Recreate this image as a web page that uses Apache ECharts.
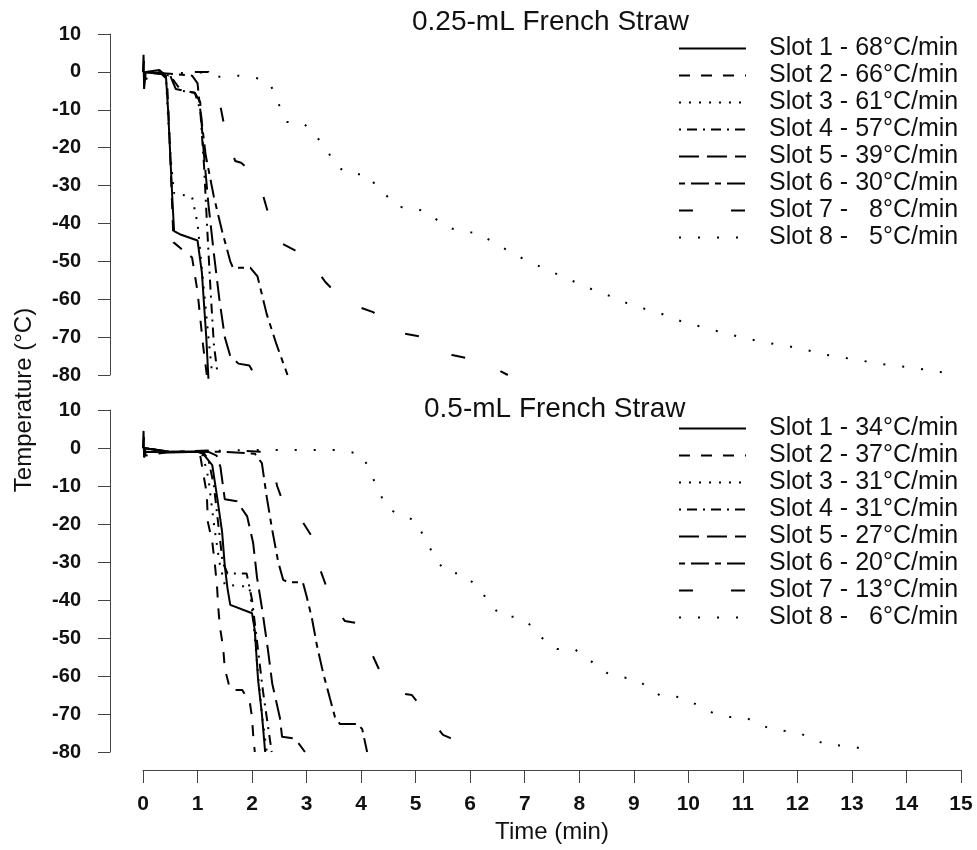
<!DOCTYPE html>
<html>
<head>
<meta charset="utf-8">
<title>French Straw cooling curves</title>
<script src="https://cdn.jsdelivr.net/npm/echarts@6/dist/echarts.min.js"></script>
<style>
  html, body { margin: 0; padding: 0; background: #fff; }
  #chart { width: 977px; height: 850px; }
</style>
</head>
<body>
<div id="chart"></div>
<script>
// x ticks (min) and y ticks (°C)
var timeTicks = [0, 1, 2, 3, 4, 5, 6, 7, 8, 9, 10, 11, 12, 13, 14, 15];
var tempTicks = [-80, -70, -60, -50, -40, -30, -20, -10, 0, 10];

// legend names
var topNames = ['Slot 1 - 68°C/min', 'Slot 2 - 66°C/min', 'Slot 3 - 61°C/min', 'Slot 4 - 57°C/min',
                'Slot 5 - 39°C/min', 'Slot 6 - 30°C/min', 'Slot 7 -   8°C/min', 'Slot 8 -   5°C/min'];
var botNames = ['Slot 1 - 34°C/min', 'Slot 2 - 37°C/min', 'Slot 3 - 31°C/min', 'Slot 4 - 31°C/min',
                'Slot 5 - 27°C/min', 'Slot 6 - 20°C/min', 'Slot 7 - 13°C/min', 'Slot 8 -   6°C/min'];

// 0.25-mL straw, [time, temp]
var top1 = [[0,0],[0.01,4.5],[0.02,-4.5],[0.05,0],[0.3,0.5],[0.42,-1],[0.46,-10],[0.5,-22],[0.54,-34],[0.57,-42],[0.7,-43],[1.0,-44.5],[1.08,-53],[1.16,-70],[1.2,-81]];
var top2 = [[0,0],[0.02,3],[0.04,-2],[0.3,0],[0.44,-2],[0.48,-15],[0.52,-30],[0.56,-45],[0.9,-49],[1.0,-58],[1.1,-72],[1.17,-80]];
var top3 = [[0,0],[0.3,-0.5],[0.42,-1],[0.46,-12],[0.52,-25],[0.57,-32],[0.9,-33],[1.0,-40],[1.1,-55],[1.2,-70],[1.27,-80]];
var top4 = [[0,0],[0.3,-0.5],[0.5,-1],[0.6,-3],[0.7,-5],[0.95,-5.5],[1.05,-10],[1.12,-25],[1.18,-42],[1.24,-58],[1.3,-72],[1.37,-80]];
var top5 = [[0,0],[0.3,-0.5],[0.5,-1],[0.6,-4.5],[0.75,-5],[0.95,-5.5],[1.05,-8],[1.1,-19],[1.2,-35],[1.3,-48],[1.4,-60],[1.5,-70],[1.6,-75],[1.75,-77],[1.95,-77.5],[2.05,-80]];
var top6 = [[0,0],[0.5,-0.5],[0.9,-1],[1.0,-3],[1.05,-10],[1.15,-22],[1.3,-33],[1.45,-42],[1.6,-50],[1.65,-51.7],[1.97,-51.7],[2.1,-54],[2.27,-64],[2.45,-72],[2.65,-80]];
var top7 = [[0,0],[0.5,-0.5],[0.9,0],[1.2,0],[1.3,-2],[1.38,-6],[1.5,-15],[1.69,-23.5],[1.8,-24],[2.11,-28],[2.29,-37],[2.51,-45],[3.03,-49],[3.34,-55.4],[3.7,-60.7],[4.22,-63.4],[4.62,-68.6],[5.21,-70.2],[5.67,-74.7],[6.23,-76.5],[6.69,-80]];
var top8 = [[0,0],[0.5,-0.5],[1.0,0],[1.41,-1.3],[1.74,-1],[2.05,-1.5],[2.29,-2.4],[2.42,-5.6],[2.51,-9.3],[2.64,-13.2],[2.93,-13.5],[3.12,-15.8],[3.28,-19],[3.43,-22],[3.56,-25],[3.8,-27],[4.11,-27],[4.26,-29.8],[4.49,-33],[4.66,-35.6],[4.99,-36],[5.23,-37.2],[5.41,-39.3],[5.59,-41],[5.85,-42.2],[6.14,-42.5],[6.36,-44.4],[6.58,-46.2],[6.79,-48],[7.01,-49.6],[7.5,-52.8],[7.96,-55.7],[8.38,-58.3],[8.69,-59.7],[8.93,-61.5],[9.43,-63.4],[9.9,-66],[10.45,-68.1],[10.95,-70],[11.44,-71.5],[11.99,-72.8],[12.54,-74.7],[13.09,-76],[13.64,-77.3],[14.12,-78.1],[14.62,-79.2],[14.93,-80]];

// 0.5-mL straw, [time, temp]
var bot1 = [[0,0],[0.01,4.5],[0.02,-2.5],[0.05,-1],[0.5,-1.2],[1.0,-1],[1.1,-1.5],[1.27,-4.5],[1.36,-13],[1.45,-22],[1.5,-31],[1.55,-37],[1.6,-41.3],[2.0,-43.5],[2.05,-48],[2.11,-61],[2.18,-70],[2.24,-80]];
var bot2 = [[0,0],[0.02,3],[0.04,-2],[0.5,-1],[1.0,-1],[1.05,-2],[1.1,-6.3],[1.17,-12],[1.19,-19.5],[1.27,-24.7],[1.32,-30.8],[1.36,-37],[1.38,-42],[1.41,-47],[1.47,-52.6],[1.5,-58],[1.6,-63.7],[1.82,-63.7],[1.96,-67],[2.0,-71],[2.02,-75.5],[2.05,-80]];
var bot3 = [[0,0],[0.5,-1],[1.0,-1],[1.1,-2],[1.2,-8],[1.3,-20],[1.4,-30],[1.5,-36],[1.95,-36.5],[2.02,-45],[2.1,-58],[2.18,-70],[2.27,-80]];
var bot4 = [[0,0],[0.5,-1],[1.1,-1],[1.2,-3],[1.3,-10],[1.38,-20],[1.46,-30],[1.55,-33],[1.9,-33],[2.0,-40],[2.1,-52],[2.2,-64],[2.3,-74],[2.36,-80]];
var bot5 = [[0,0],[0.5,-1],[1.2,-1],[1.35,-2],[1.42,-5],[1.5,-13.5],[1.72,-14],[1.91,-18],[2.02,-25],[2.09,-34],[2.18,-42],[2.29,-53],[2.37,-62],[2.51,-71],[2.55,-76],[2.79,-76.5],[2.97,-80]];
var bot6 = [[0,0],[0.5,-1],[1.5,-1],[2.05,-1.5],[2.18,-4],[2.27,-13],[2.37,-21.6],[2.48,-30],[2.57,-34.7],[2.66,-35.3],[2.93,-35.3],[3.0,-39],[3.1,-45],[3.19,-52],[3.3,-59],[3.43,-66],[3.52,-70.8],[3.61,-72.6],[3.94,-72.6],[4.02,-74],[4.11,-80]];
var bot7 = [[0,0],[0.5,-1],[1.5,-0.5],[2.2,-1],[2.33,-2],[2.46,-10],[2.6,-15.5],[2.79,-16.3],[3.1,-23.4],[3.25,-32],[3.47,-40.8],[3.7,-45.5],[3.89,-46],[4.16,-53],[4.4,-60.5],[4.7,-64.5],[4.93,-65],[5.26,-71],[5.5,-75.5],[5.63,-76.3],[5.9,-78],[6.13,-79.5]];
var bot8 = [[0,0],[0.5,-1],[2.0,-0.5],[3.0,-0.5],[3.5,-0.5],[4.0,-1.5],[4.13,-5],[4.25,-9],[4.38,-13],[4.49,-16],[4.77,-17.9],[5.02,-19.2],[5.13,-22.9],[5.26,-26.3],[5.41,-30],[5.57,-32.9],[5.87,-33],[6.05,-35.5],[6.22,-38.2],[6.4,-41.3],[6.55,-44.2],[6.86,-44.5],[7.06,-46],[7.23,-48.7],[7.39,-51],[7.59,-52.9],[7.92,-53],[8.11,-55],[8.31,-57.1],[8.51,-59.2],[8.78,-60.3],[9.06,-61],[9.28,-63.2],[9.5,-65.3],[9.81,-65.5],[10.05,-66.8],[10.27,-68.4],[10.45,-69.7],[10.76,-70.8],[11.06,-71],[11.26,-72.4],[11.52,-74],[11.81,-74.5],[12.08,-75.3],[12.32,-76.8],[12.56,-78.2],[12.91,-78.3],[13.15,-79]];

var topData = [top1, top2, top3, top4, top5, top6, top7, top8];
var botData = [bot1, bot2, bot3, bot4, bot5, bot6, bot7, bot8];

// line type per slot (R style lty)
var dashes = ['solid', [11, 11], [2, 8], [2, 6, 10, 6], [20, 8], [6, 6, 18, 6], [14, 38], [2, 17]];

var FONT = 'Liberation Sans, Arial, sans-serif';

function makeSeries(names, datas, idx) {
    var out = [];
    for (var i = 0; i < names.length; i++) {
        out.push({
            name: names[i],
            type: 'line',
            xAxisIndex: idx,
            yAxisIndex: idx,
            data: datas[i],
            symbol: 'none',
            clip: false,
            silent: true,
            itemStyle: { color: '#000' },
            lineStyle: { color: '#000', width: 2, type: dashes[i] }
        });
    }
    return out;
}

function yAxisCfg(idx) {
    return {
        gridIndex: idx, type: 'value',
        min: tempTicks[0], max: tempTicks[tempTicks.length - 1], interval: 10,
        offset: 33,
        axisLine: { show: true, onZero: false, lineStyle: { color: '#444', width: 1 } },
        axisTick: { show: true, inside: false, length: 12, lineStyle: { color: '#444' } },
        axisLabel: { fontSize: 20, fontWeight: 'bold', color: '#111', margin: 29, fontFamily: FONT },
        splitLine: { show: false }
    };
}

function legendCfg(names, top) {
    return {
        orient: 'vertical', left: 678, top: top, padding: 0,
        itemWidth: 67, itemHeight: 14, itemGap: 2,
        selectedMode: false,
        itemStyle: { opacity: 0 },
        data: names,
        textStyle: { fontSize: 25, lineHeight: 24, color: '#111', fontFamily: FONT, padding: [0, 0, 0, 18] }
    };
}

var myChart = echarts.init(document.getElementById('chart'), null, { renderer: 'canvas' });
var option = {
    animation: false,
    backgroundColor: '#fff',
    title: [
        { text: '0.25-mL French Straw', left: 412, top: 8, padding: 0,
          textStyle: { fontSize: 28, fontWeight: 'normal', color: '#111', fontFamily: FONT } },
        { text: '0.5-mL French Straw', left: 424, top: 395, padding: 0,
          textStyle: { fontSize: 28, fontWeight: 'normal', color: '#111', fontFamily: FONT } }
    ],
    legend: [legendCfg(topNames, 36), legendCfg(botNames, 416)],
    grid: [
        { left: 143, right: 16, top: 34, height: 341 },
        { left: 143, right: 16, top: 410, height: 342 }
    ],
    xAxis: [
        { gridIndex: 0, type: 'value', min: 0, max: 15, interval: 1, show: false },
        {
            gridIndex: 1, type: 'value', min: timeTicks[0], max: timeTicks[timeTicks.length - 1], interval: 1,
            offset: 18,
            name: 'Time (min)', nameLocation: 'middle', nameGap: 50,
            nameTextStyle: { fontSize: 24, color: '#111', fontFamily: FONT },
            axisLine: { show: true, onZero: false, lineStyle: { color: '#444', width: 1 } },
            axisTick: { show: true, inside: false, length: 13, lineStyle: { color: '#444' } },
            axisLabel: { fontSize: 21, fontWeight: 'bold', color: '#111', margin: 24, fontFamily: FONT },
            splitLine: { show: false }
        }
    ],
    yAxis: [yAxisCfg(0), yAxisCfg(1)],
    graphic: [{
        type: 'text', x: 24, y: 400, rotation: Math.PI / 2,
        style: { text: 'Temperature (°C)', fontSize: 24, fill: '#111', fontFamily: FONT,
                 align: 'center', verticalAlign: 'middle' }
    }],
    series: makeSeries(topNames, topData, 0).concat(makeSeries(botNames, botData, 1))
};
myChart.setOption(option);
</script>
</body>
</html>
